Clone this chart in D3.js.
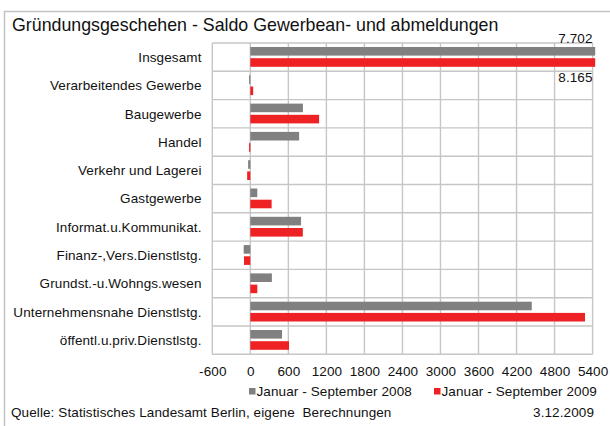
<!DOCTYPE html>
<html>
<head>
<meta charset="utf-8">
<script src="https://cdn.jsdelivr.net/npm/d3@7/dist/d3.min.js"></script>
<style>
  html, body { margin: 0; padding: 0; background: #fff; }
  svg { display: block; font-family: Arial, "Liberation Sans", sans-serif; }
  .small { font-size: 13.5px; letter-spacing: 0.1px; fill: #111; white-space: pre; }
</style>
</head>
<body>
<svg id="chart" width="610" height="426"></svg>
<script>
// Saldo of business registrations and deregistrations, Berlin, Jan–Sep
const categories = [
  "Insgesamt",
  "Verarbeitendes Gewerbe",
  "Baugewerbe",
  "Handel",
  "Verkehr und Lagerei",
  "Gastgewerbe",
  "Informat.u.Kommunikat.",
  "Finanz-,Vers.Dienstlstg.",
  "Grundst.-u.Wohngs.wesen",
  "Unternehmensnahe Dienstlstg.",
  "öffentl.u.priv.Dienstlstg."
];
const values2008 = [7702, -20, 830, 770, -35, 110, 800, -105, 340, 4440, 500];
const values2009 = [8165, 45, 1085, -20, -50, 336, 828, -100, 110, 5280, 610];
const seriesNames = ["Januar - September 2008", "Januar - September 2009"];
const tickValues = [-600, 0, 600, 1200, 1800, 2400, 3000, 3600, 4200, 4800, 5400];
const valueLabels = ["7.702", "8.165"];

const colors = ["#808080", "#ee2224"];
const gridColor = "#c6c6c6";

const svg = d3.select("#chart");

const plot = { left: 212.3, right: 592.6, top: 43, bottom: 354.3 };

const x = d3.scaleLinear().domain([-600, 5400]).range([plot.left, plot.right]);
const y = d3.scaleBand().domain(categories).range([plot.top, plot.bottom]).padding(0);

// outer frame
svg.append("path")
  .attr("d", "M4.5,426 V11.5 H610")
  .attr("fill", "none")
  .attr("stroke", "#c2c2c2")
  .attr("stroke-width", 1.5);

// title
svg.append("text")
  .attr("x", 12).attr("y", 31)
  .attr("font-size", 17.8)
  .attr("fill", "#111")
  .text("Gründungsgeschehen - Saldo Gewerbean- und abmeldungen");

// grid: vertical lines at each tick
const grid = svg.append("g");
grid.selectAll("line.v").data(tickValues).join("line")
  .attr("class", "v")
  .attr("x1", d => x(d)).attr("x2", d => x(d))
  .attr("y1", plot.top).attr("y2", plot.bottom)
  .attr("stroke", gridColor).attr("stroke-width", 1.4);
// horizontal row separators
const rowEdges = categories.map(c => y(c)).concat([plot.bottom]);
grid.selectAll("line.h").data(rowEdges).join("line")
  .attr("class", "h")
  .attr("x1", plot.left).attr("x2", plot.right)
  .attr("y1", d => d).attr("y2", d => d)
  .attr("stroke", gridColor).attr("stroke-width", 1.4);

// bars, clipped a few pixels past the right edge
svg.append("clipPath").attr("id", "clip")
  .append("rect")
  .attr("x", plot.left).attr("y", plot.top)
  .attr("width", plot.right - plot.left + 2.6)
  .attr("height", plot.bottom - plot.top);

const bh = 8.6;
const series = [values2008, values2009];
const offsets = [4.0, 15.2];
const bars = svg.append("g").attr("clip-path", "url(#clip)");
series.forEach((vals, si) => {
  bars.selectAll("rect.s" + si).data(vals).join("rect")
    .attr("class", "s" + si)
    .attr("x", d => x(Math.min(0, d)))
    .attr("width", d => Math.abs(x(d) - x(0)))
    .attr("y", (d, i) => y(categories[i]) + offsets[si])
    .attr("height", bh)
    .attr("fill", colors[si]);
});

// value labels for the clipped total bars
svg.append("text").attr("class", "small")
  .attr("x", plot.right).attr("y", 42.5)
  .attr("text-anchor", "end")
  .text(valueLabels[0]);
svg.append("text").attr("class", "small")
  .attr("x", plot.right).attr("y", 81.5)
  .attr("text-anchor", "end")
  .text(valueLabels[1]);

// category labels
svg.append("g").selectAll("text").data(categories).join("text")
  .attr("class", "small")
  .attr("x", 201.5)
  .attr("y", d => y(d) + y.bandwidth() / 2 + 4.8)
  .attr("text-anchor", "end")
  .text(d => d);

// x axis labels
const xAxis = d3.axisBottom(x).tickValues(tickValues).tickSize(0).tickPadding(0)
  .tickFormat(d => String(d));
const ax = svg.append("g").attr("transform", `translate(0,${366})`).call(xAxis);
ax.select(".domain").remove();
ax.selectAll("text")
  .attr("class", "small")
  .attr("font-size", null)
  .attr("font-family", null)
  .attr("fill", null);

// legend
const legendX = [249, 434];
seriesNames.forEach((name, i) => {
  svg.append("rect")
    .attr("x", legendX[i]).attr("y", 388)
    .attr("width", 6.5).attr("height", 6.5)
    .attr("fill", colors[i]);
  svg.append("text").attr("class", "small")
    .attr("x", legendX[i] + 7.5).attr("y", 395.5)
    .text(name);
});

// footer
svg.append("text").attr("class", "small")
  .attr("x", 11).attr("y", 417)
  .text("Quelle: Statistisches Landesamt Berlin, eigene  Berechnungen");
svg.append("text").attr("class", "small")
  .attr("x", 594).attr("y", 417)
  .attr("text-anchor", "end")
  .text("3.12.2009");
</script>
</body>
</html>
